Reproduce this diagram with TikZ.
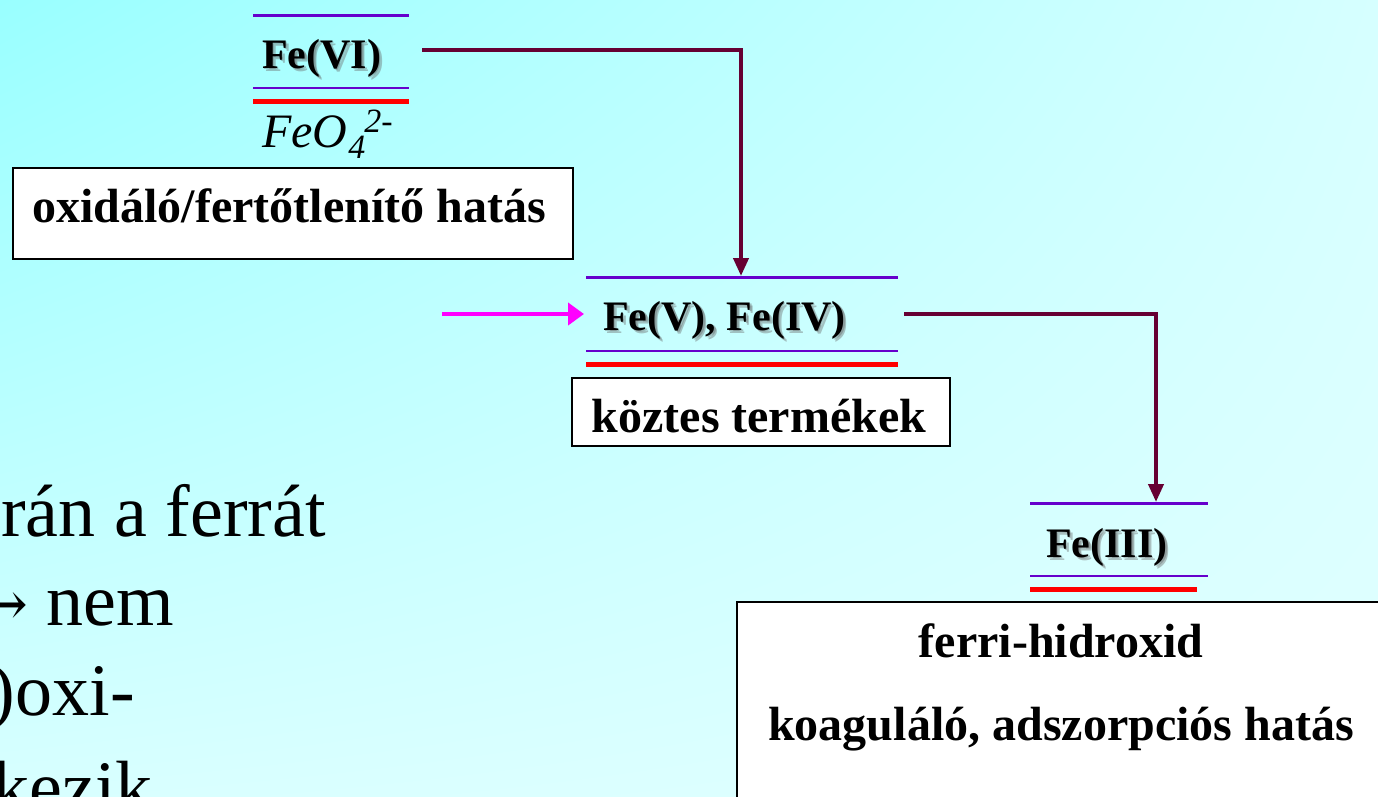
\documentclass[tikz,border=0pt]{standalone}
\usepackage{fontspec}
\setmainfont{Liberation Serif}
\newfontfamily\arrowfont{DejaVu Serif}
\usetikzlibrary{arrows.meta,shadings}
\definecolor{bgTL}{HTML}{99FFFF}
\definecolor{bgTR}{HTML}{D6FFFF}
\definecolor{bgBL}{HTML}{D8FFFF}
\definecolor{bgBR}{HTML}{E0FFFF}
\definecolor{purp}{HTML}{6600CC}
\definecolor{maroon}{HTML}{660033}
\definecolor{mag}{HTML}{FF00FF}
\tikzset{
  topline/.style={purp, line width=3},
  midline/.style={purp, line width=1.5},
  redline/.style={red, line width=5},
  felabel/.style={font=\fontsize{42}{50}\selectfont\bfseries, inner sep=0, anchor=base west},
  feshadow/.style={felabel, text=black!60, opacity=0.4},
  box/.style={draw=black, line width=2, fill=white, inner sep=0, anchor=north west},
  boxtext/.style={font=\fontsize{48}{58}\selectfont\bfseries, inner sep=0, anchor=base},
  conn/.style={maroon, line width=4, -{Triangle[length=18,width=15]}},
  inarrow/.style={mag, line width=4, -{Triangle[length=16,width=22]}},
  bigtext/.style={font=\fontsize{74}{88}\selectfont, inner sep=0, anchor=base east},
}
\begin{document}
\begin{tikzpicture}[x=1pt,y=-1pt]
\useasboundingbox (0,0) rectangle (1378,796);
\clip (0,0) rectangle (1378,796);
\shade[upper left=bgTL, upper right=bgTR, lower left=bgBL, lower right=bgBR] (0,0) rectangle (1378,796);

% ---- Fe(VI) group
\draw[topline] (253,15) -- (409,15);
\node[feshadow] at (265,71) {Fe(VI)};
\node[feshadow] at (263.5,69.5) {Fe(VI)};
\node[felabel] (fe6) at (262,68) {Fe(VI)};
\draw[midline] (253,88) -- (409,88);
\draw[redline] (253,101) -- (409,101);
\node[inner sep=0, anchor=base west, font=\fontsize{48}{58}\selectfont\itshape] (feo4) at (262,147)
  {FeO\kern1pt\raisebox{-11pt}{\fontsize{34}{40}\selectfont 4}\kern-1pt\raisebox{15pt}{\fontsize{34}{40}\selectfont 2-}};
\node[box, minimum width=560, minimum height=91] (b1) at (12,167) {};
\node[boxtext] (t1) at (289,222) {oxidáló/fertőtlenítő hatás};

% ---- Fe(V), Fe(IV) group
\draw[topline] (586,277) -- (898,277);
\node[feshadow] at (606,333) {Fe(V), Fe(IV)};
\node[feshadow] at (604.5,331.5) {Fe(V), Fe(IV)};
\node[felabel] (fe54) at (603,330) {Fe(V), Fe(IV)};
\draw[midline] (586,351) -- (898,351);
\draw[redline] (586,364) -- (898,364);
\node[box, minimum width=378, minimum height=68] (b2) at (571,377) {};
\node[boxtext] (t2) at (759,432) {köztes termékek};

% ---- Fe(III) group
\draw[topline] (1030,503) -- (1208,503);
\node[feshadow] at (1049,560) {Fe(III)};
\node[feshadow] at (1047.5,558.5) {Fe(III)};
\node[felabel] (fe3) at (1046,557) {Fe(III)};
\draw[midline] (1030,576) -- (1208,576);
\draw[redline] (1030,589) -- (1197,589);
\node[box, minimum width=660, minimum height=230] (b3) at (736,601) {};
\node[boxtext] (t3a) at (1061,657) {ferri-hidroxid};
\node[boxtext] (t3b) at (1061,740) {koaguláló, adszorpciós hatás};

% ---- connectors
\coordinate (c1s) at (422,50);
\coordinate (c1e) at (741,276);
\coordinate (c2s) at (904,314);
\coordinate (c2e) at (1156,502);
\coordinate (m1s) at (442,314);
\coordinate (m1e) at (584,314);
\draw[conn] (c1s) -| (c1e);
\draw[conn] (c2s) -| (c2e);
\draw[inarrow] (m1s) -- (m1e);

% ---- left text (cut at the edge, as in the reference)
\node[bigtext] (l1) at (326,536) {rán a ferrát};
\node[bigtext] (l2) at (174,625) {{\arrowfont\fontsize{62}{70}\selectfont →}\hspace{18pt}nem};
\node[bigtext] (l3) at (135,715) {)oxi-};
\node[bigtext] (l4) at (153,812) {kezik};
\end{tikzpicture}
\end{document}
